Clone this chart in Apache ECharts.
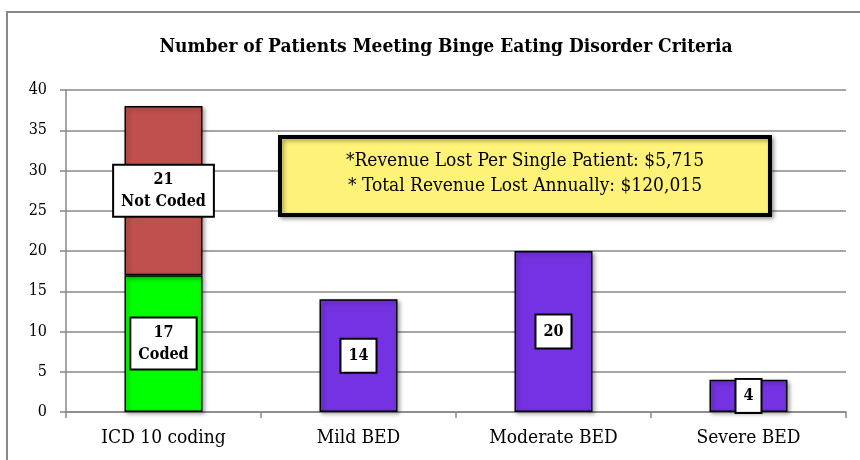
<!DOCTYPE html>
<html>
<head>
<meta charset="utf-8">
<script src="https://cdn.jsdelivr.net/npm/echarts@6/dist/echarts.min.js"></script>
<style>html,body{margin:0;padding:0;background:#fff}#c{width:860px;height:460px}</style>
</head>
<body>
<div id="c"></div>
<script>
const categories = ['ICD 10 coding', 'Mild BED', 'Moderate BED', 'Severe BED'];
const codedValues = [17, '-', '-', '-'];
const notCodedValues = [21, '-', '-', '-'];
const bedValues = ['-', 14, 20, 4];
const yTicks = [0, 5, 10, 15, 20, 25, 30, 35, 40];
const titleText = 'Number of Patients Meeting Binge Eating Disorder Criteria';
const noteLines = ['*Revenue Lost Per Single Patient: $5,715', '* Total Revenue Lost Annually: $120,015'];

const FONT = 'DejaVu Serif Condensed';
const chart = echarts.init(document.getElementById('c'), null, {renderer: 'canvas'});

const labelBox = {
  show: true,
  position: 'inside',
  color: '#000',
  fontFamily: FONT,
  fontWeight: 'bold',
  fontSize: 16,
  lineHeight: 22,
  backgroundColor: '#fff',
  borderColor: '#000',
  borderWidth: 2,
  padding: [4, 7, 2, 7]
};
const itemBase = {borderColor: '#000', borderWidth: 1.5, shadowColor: 'rgba(0,0,0,0.35)', shadowBlur: 4, shadowOffsetX: 2, shadowOffsetY: 2};

chart.setOption({
  animation: false,
  title: {
    text: titleText, left: 441, top: 33, textAlign: 'center',
    textStyle: {fontFamily: FONT, fontWeight: 'bold', fontSize: 19, color: '#000'}
  },
  grid: {left: 66, right: 14, top: 90, bottom: 48},
  xAxis: {
    type: 'category', data: categories, boundaryGap: true,
    axisLine: {lineStyle: {color: '#888', width: 1.5}},
    axisTick: {show: true, length: 6, lineStyle: {color: '#888', width: 1.5}},
    axisLabel: {fontFamily: FONT, fontSize: 19, color: '#000', margin: 17}
  },
  yAxis: {
    type: 'value', min: yTicks[0], max: yTicks[yTicks.length - 1], interval: 5,
    axisLine: {show: true, lineStyle: {color: '#888', width: 1.5}},
    axisTick: {show: true, length: 6, lineStyle: {color: '#888', width: 1.5}},
    splitLine: {lineStyle: {color: '#888', width: 1.5}},
    axisLabel: {fontFamily: FONT, fontSize: 16, color: '#000', margin: 19}
  },
  series: [
    {name: 'Coded', type: 'bar', stack: 's', barWidth: '40%', data: codedValues,
     itemStyle: Object.assign({color: '#00FF00'}, itemBase),
     label: Object.assign({formatter: '{c}\nCoded'}, labelBox)},
    {name: 'Not Coded', type: 'bar', stack: 's', barWidth: '40%', data: notCodedValues,
     itemStyle: Object.assign({color: '#C0504D'}, itemBase),
     label: Object.assign({formatter: '{c}\nNot Coded'}, labelBox)},
    {name: 'BED', type: 'bar', stack: 's', barWidth: '40%', data: bedValues,
     itemStyle: Object.assign({color: '#7432E2'}, itemBase),
     label: Object.assign({}, labelBox, {formatter: '{c}', padding: [6, 7, 4, 7]})}
  ],
  graphic: [
    {type: 'rect', shape: {x: 7, y: 12, width: 900, height: 500},
     style: {fill: null, stroke: '#888', lineWidth: 2}, silent: true, z: -1},
    {type: 'rect', shape: {x: 280, y: 137, width: 490, height: 78},
     style: {fill: '#FFF279', stroke: '#000', lineWidth: 4,
             shadowColor: 'rgba(0,0,0,0.35)', shadowBlur: 4, shadowOffsetX: 2, shadowOffsetY: 2}, z: 10},
    {type: 'text', x: 525, y: 174, z: 11,
     style: {text: noteLines.join('\n'), align: 'center', verticalAlign: 'middle',
             fontFamily: FONT, fontSize: 19, lineHeight: 25, fill: '#000'}}
  ]
});
</script>
</body>
</html>
